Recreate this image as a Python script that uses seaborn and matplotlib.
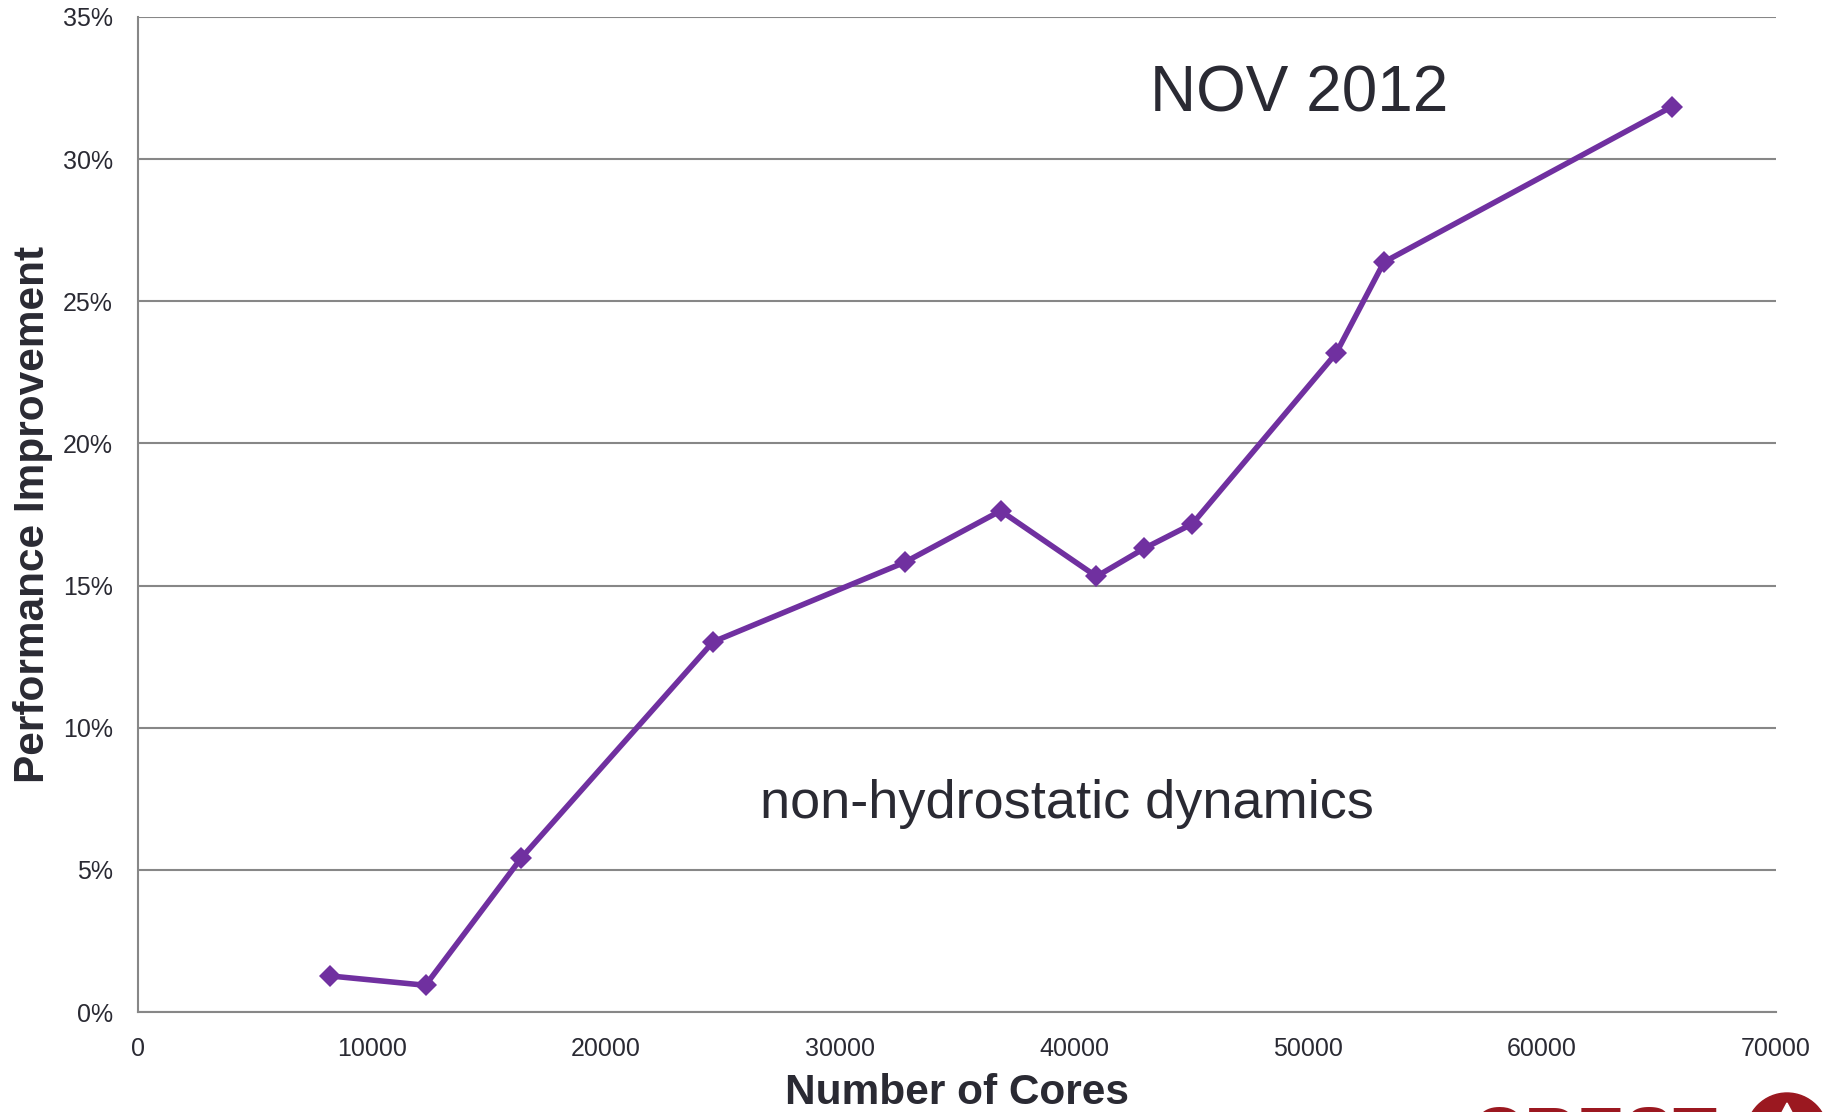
import matplotlib
matplotlib.use("Agg")
import matplotlib.pyplot as plt
import matplotlib.ticker as mticker
from matplotlib.patches import Ellipse, Polygon
import seaborn as sns
import pandas as pd

# Scaling run: core counts and measured performance improvement (%)
cores = [8192, 12288, 16384, 24576, 32768, 36864, 40960, 43008, 45056, 51200, 53248, 65536]
improvement = [1.27, 0.94, 5.42, 13.02, 15.82, 17.63, 15.32, 16.31, 17.17, 23.17, 26.38, 31.84]

x_ticks = [0, 10000, 20000, 30000, 40000, 50000, 60000, 70000]
y_ticks = [0, 5, 10, 15, 20, 25, 30, 35]

title_text = "NOV 2012"
note_text = "non-hydrostatic dynamics"
x_label = "Number of Cores"
y_label = "Performance Improvement"

df = pd.DataFrame({"cores": cores, "improvement": improvement})

sns.set_theme(style="white")
plt.rcParams["font.family"] = ["Liberation Sans", "DejaVu Sans"]

TEXT = "#2a2a33"
GRID = "#878787"
LINE = "#7030a0"

W, H = 1831, 1112
fig = plt.figure(figsize=(W / 100, H / 100), dpi=100)
ax = fig.add_axes([138 / W, 1 - 1012 / H, (1776 - 138) / W, (1012 - 17) / H])

sns.lineplot(data=df, x="cores", y="improvement", ax=ax, color=LINE,
             linewidth=4, marker="D", markersize=11.5, markeredgewidth=0,
             markerfacecolor=LINE, zorder=5)

ax.set_xlim(0, 70000)
ax.set_ylim(0, 35)
ax.set_xticks(x_ticks)
ax.set_yticks(y_ticks)
ax.xaxis.set_major_formatter(mticker.FuncFormatter(lambda v, p: f"{int(v)}"))
ax.yaxis.set_major_formatter(mticker.PercentFormatter(decimals=0))

ax.grid(axis="y", color=GRID, linewidth=1.5)
ax.grid(axis="x", visible=False)
ax.set_axisbelow(True)

for side in ("top", "right"):
    ax.spines[side].set_visible(False)
for side in ("left", "bottom"):
    ax.spines[side].set_color(GRID)
    ax.spines[side].set_linewidth(1.5)

ax.tick_params(axis="both", which="major", direction="out", color=GRID,
               width=1.5, length=6, labelsize=18, labelcolor=TEXT)
ax.tick_params(axis="y", pad=12)
ax.tick_params(axis="x", pad=12)

ax.set_xlabel(x_label, fontsize=30.5, fontweight="bold", color=TEXT)
ax.set_ylabel(y_label, fontsize=30.5, fontweight="bold", color=TEXT)
ax.xaxis.set_label_coords(0.5, -0.061)
ax.yaxis.set_label_coords(-0.052, 0.5)

ax.text(1150 / W, 1 - 111 / H, title_text, transform=fig.transFigure,
        fontsize=46, color=TEXT, ha="left", va="baseline")
ax.text(760 / W, 1 - 818 / H, note_text, transform=fig.transFigure,
        fontsize=39, color=TEXT, ha="left", va="baseline")

# logo peeking in at the bottom-right corner
RED = "#9b1820"
fig.text(1472 / W, 1 - 1105 / H, "CREST", color=RED, fontsize=52,
         fontweight="bold", ha="left", va="top")
fig.add_artist(Ellipse((1787 / W, 1 - 1134 / H), 82 / W, 82 / H,
                       transform=fig.transFigure, color=RED))
fig.add_artist(Polygon([(1787 / W, 1 - 1103 / H), (1778 / W, 1 - 1120 / H),
                        (1796 / W, 1 - 1120 / H)], closed=True,
                       transform=fig.transFigure, color="white"))

fig.savefig("out.png", dpi=100, facecolor="white")
